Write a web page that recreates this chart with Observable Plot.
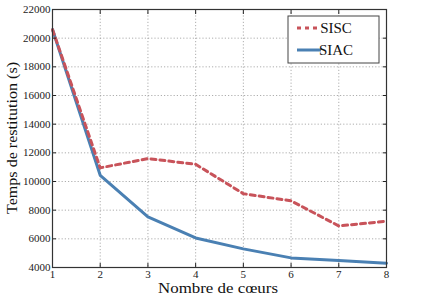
<!DOCTYPE html>
<html>
<head>
<meta charset="utf-8">
<script src="https://cdn.jsdelivr.net/npm/d3@7"></script>
<script src="https://cdn.jsdelivr.net/npm/@observablehq/plot@0.6"></script>
<style>
  html, body { margin: 0; padding: 0; background: #fff; }
  #chart { position: relative; width: 427px; height: 299px; }
  #chart svg, #chart svg text { font-family: 'Liberation Serif', 'Times New Roman', serif !important; }
</style>
</head>
<body>
<div id="chart"></div>
<script>
const cores = [1, 2, 3, 4, 5, 6, 7, 8];
const sisc = [20600, 10950, 11600, 11200, 9150, 8650, 6900, 7230];
const siac = [20600, 10430, 7530, 6060, 5300, 4670, 4490, 4300];
const seriesNames = ["SISC", "SIAC"];
const yTicks = [4000, 6000, 8000, 10000, 12000, 14000, 16000, 18000, 20000, 22000];
const colors = {SISC: "#c8535a", SIAC: "#4a80b3"};

const rows = [];
cores.forEach((c, i) => {
  rows.push({cores: c, temps: sisc[i], serie: "SISC"});
  rows.push({cores: c, temps: siac[i], serie: "SIAC"});
});

const font = "'Liberation Serif', 'Times New Roman', serif";

const plot = Plot.plot({
  width: 427,
  height: 299,
  marginLeft: 52,
  marginRight: 41,
  marginTop: 9,
  marginBottom: 32,
  style: {fontFamily: font, fontSize: "11px", color: "#222", background: "#fff"},
  x: {domain: [1, 8], ticks: cores},
  y: {domain: [4000, 22000], ticks: yTicks},
  marks: [
    Plot.gridX(cores, {stroke: "#999", strokeOpacity: 1, strokeDasharray: "1.2,2", strokeWidth: 0.8}),
    Plot.gridY(yTicks, {stroke: "#999", strokeOpacity: 1, strokeDasharray: "1.2,2", strokeWidth: 0.8}),
    Plot.line(rows.filter(d => d.serie === "SIAC"), {x: "cores", y: "temps", stroke: colors.SIAC, strokeWidth: 3}),
    Plot.line(rows.filter(d => d.serie === "SISC"), {x: "cores", y: "temps", stroke: colors.SISC, strokeWidth: 3, strokeDasharray: "5,4"}),
    Plot.axisX(cores, {anchor: "bottom", tickSize: -4, tickPadding: 7, label: null, fontSize: 11}),
    Plot.axisX(cores, {anchor: "top", tickSize: -4, tickFormat: () => "", label: null}),
    Plot.axisY(yTicks, {anchor: "left", tickSize: -4, tickPadding: 6, tickFormat: d => String(d), label: null, fontSize: 11}),
    Plot.axisY(yTicks, {anchor: "right", tickSize: -4, tickFormat: () => "", label: null}),
    Plot.frame({stroke: "#333", strokeWidth: 1.2})
  ]
});

document.getElementById("chart").appendChild(plot);

const svg = d3.select(plot);
// axis titles
svg.append("text")
  .attr("x", 218).attr("y", 293)
  .attr("text-anchor", "middle")
  .attr("textLength", 120).attr("lengthAdjust", "spacingAndGlyphs")
  .style("font-family", font)
  .style("font-size", "15.5px").style("fill", "#111")
  .text("Nombre de cœurs");
svg.append("text")
  .attr("transform", "translate(17,138) rotate(-90)")
  .attr("text-anchor", "middle")
  .attr("textLength", 152).attr("lengthAdjust", "spacingAndGlyphs")
  .style("font-family", font)
  .style("font-size", "15.5px").style("fill", "#111")
  .text("Temps de restitution (s)");

// legend
const lg = svg.append("g");
lg.append("rect").attr("x", 288).attr("y", 16).attr("width", 91).attr("height", 47)
  .attr("fill", "#fff").attr("stroke", "#444").attr("stroke-width", 1);
seriesNames.forEach((name, i) => {
  const yy = 28 + i * 22;
  lg.append("line").attr("x1", 297).attr("x2", 321).attr("y1", yy).attr("y2", yy)
    .attr("stroke", colors[name]).attr("stroke-width", 3)
    .attr("stroke-dasharray", name === "SISC" ? "4,4" : null);
  lg.append("text").attr("x", 336).attr("y", yy + 5)
    .style("font-family", font)
    .style("font-size", "15px").style("fill", "#111")
    .text(name);
});
</script>
</body>
</html>
